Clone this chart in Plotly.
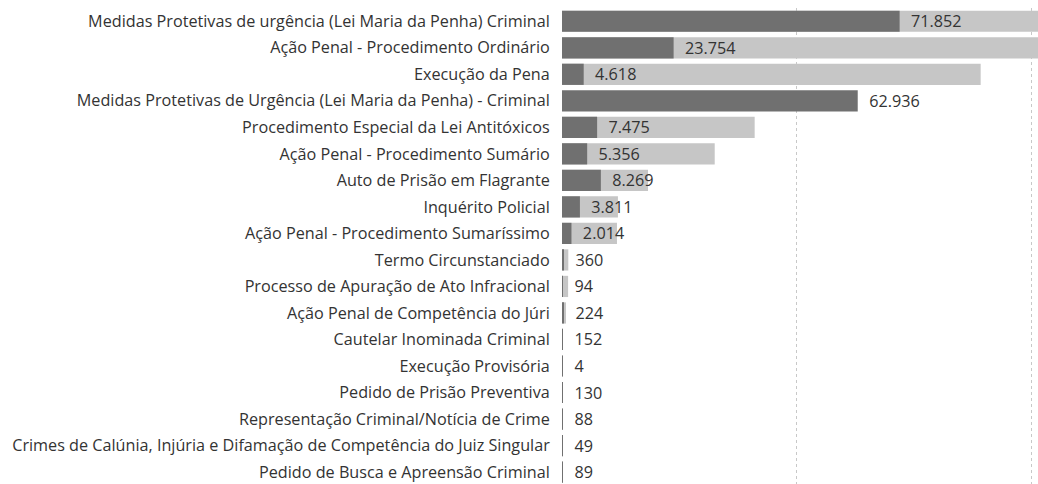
import plotly.graph_objects as go

categories = [
    "Medidas Protetivas de urgência (Lei Maria da Penha) Criminal",
    "Ação Penal - Procedimento Ordinário",
    "Execução da Pena",
    "Medidas Protetivas de Urgência (Lei Maria da Penha) - Criminal",
    "Procedimento Especial da Lei Antitóxicos",
    "Ação Penal - Procedimento Sumário",
    "Auto de Prisão em Flagrante",
    "Inquérito Policial",
    "Ação Penal - Procedimento Sumaríssimo",
    "Termo Circunstanciado",
    "Processo de Apuração de Ato Infracional",
    "Ação Penal de Competência do Júri",
    "Cautelar Inominada Criminal",
    "Execução Provisória",
    "Pedido de Prisão Preventiva",
    "Representação Criminal/Notícia de Crime",
    "Crimes de Calúnia, Injúria e Difamação de Competência do Juiz Singular",
    "Pedido de Busca e Apreensão Criminal",
]
primary_values = [71852, 23754, 4618, 62936, 7475, 5356, 8269, 3811, 2014,
                  360, 94, 224, 152, 4, 130, 88, 49, 89]
background_values = [115000, 110000, 89100, 0, 41000, 32500, 18300, 11900, 11700,
                     1340, 1300, 850, 200, 40, 180, 120, 80, 120]

label_font = dict(family="Open Sans", size=16.2, color="#333333")

fig = go.Figure()
fig.add_trace(go.Bar(
    y=categories, x=background_values, orientation="h",
    marker=dict(color="#c6c6c6", line=dict(width=0)),
    width=0.8, hoverinfo="skip", showlegend=False,
))
fig.add_trace(go.Bar(
    y=categories, x=primary_values, orientation="h",
    marker=dict(color="#707070", line=dict(width=0)),
    width=0.8,
    texttemplate="\u00a0\u00a0%{x:,}", textposition="outside",
    textfont=label_font, constraintext="none", cliponaxis=False,
    showlegend=False,
))

fig.update_layout(
    width=1038, height=484,
    barmode="overlay",
    separators=",.",
    paper_bgcolor="white", plot_bgcolor="white",
    margin=dict(l=562, r=0, t=8, b=0, autoexpand=False),
    font=label_font,
    xaxis=dict(range=[0, 101300], showgrid=True, gridcolor="#c8c8c8",
               griddash="dot", gridwidth=1, dtick=50000, tick0=0,
               showticklabels=False, zeroline=False, showline=False),
    yaxis=dict(categoryorder="array", categoryarray=categories,
               range=[17.45, -0.5], showgrid=False, zeroline=False,
               showline=False, ticks="outside", ticklen=8,
               tickcolor="rgba(0,0,0,0)", tickfont=label_font,
               automargin=False),
)

fig.write_html(
    "out.html",
    config={"displayModeBar": False},
    post_script="document.body.style.margin='0';document.body.style.overflow='hidden';",
)
